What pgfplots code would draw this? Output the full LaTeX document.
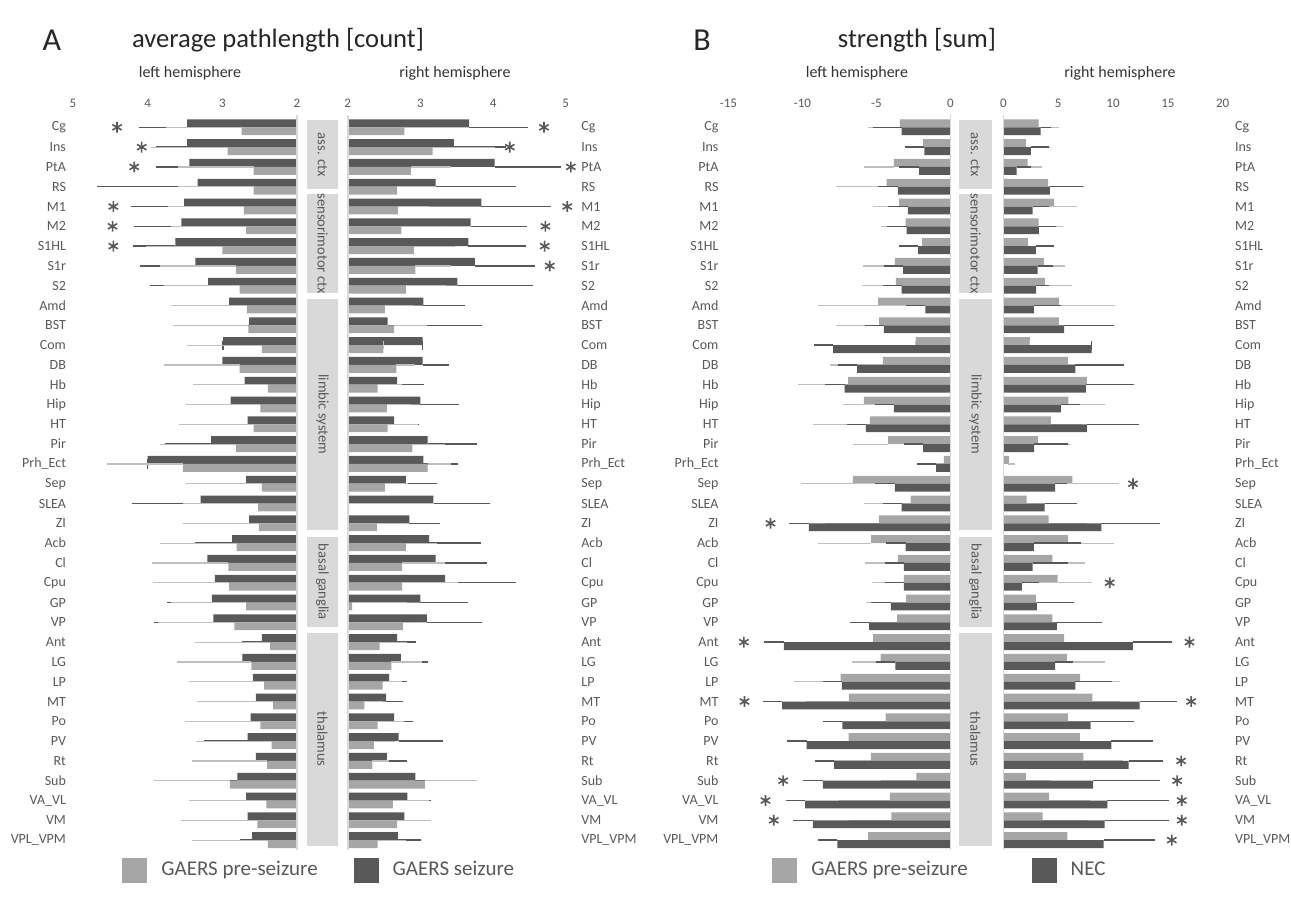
\documentclass[border=0pt]{standalone}
\usepackage{fontspec}
\setmainfont{Carlito}
\usepackage{pgfplots}
\usepackage{pgfplotstable}
\pgfplotsset{compat=1.18}
\definecolor{darkbar}{HTML}{595959}
\definecolor{lightbar}{HTML}{A6A6A6}
\definecolor{lighterr}{HTML}{BFBFBF}
\definecolor{boxcol}{HTML}{D9D9D9}
\definecolor{txt}{HTML}{595959}
\definecolor{basecol}{HTML}{D9D9D9}

% columns: row, light value, light error, dark value, dark error
\pgfplotstableread{
y ll le dl de
0 2.74 0.96 3.47 0.58
1 2.93 0.97 3.47 0.36
2 2.58 0.96 3.44 0.39
3 2.58 0.96 3.33 1.29
4 2.71 0.97 3.51 0.65
5 2.68 0.96 3.55 0.57
6 3.00 0.97 3.63 0.51
7 2.82 0.97 3.36 0.68
8 2.77 0.96 3.19 0.72
9 2.67 0.97 2.91 0.23
10 2.65 0.96 2.64 0.43
11 2.47 0.95 2.99 0
12 2.77 0.96 3.00 0.60
13 2.39 0.95 2.70 0.34
14 2.49 0.95 2.89 0.35
15 2.58 0.95 2.66 0.35
16 2.82 0.96 3.15 0.56
17 3.53 0.96 4.00 0
18 2.47 0.96 2.68 0.39
19 2.52 0.96 3.29 0.86
20 2.51 0.97 2.64 0.31
21 2.81 0.97 2.87 0.44
22 2.92 0.97 3.20 0.51
23 2.91 0.97 3.10 0.72
24 2.68 0.96 3.14 0.54
25 2.84 0.97 3.12 0.73
26 2.36 0.95 2.47 0.20
27 2.61 0.95 2.73 0.26
28 2.44 0.96 2.59 0.27
29 2.32 0.97 2.55 0.25
30 2.49 0.96 2.62 0.24
31 2.34 0.96 2.66 0.52
32 2.40 0.96 2.55 0.13
33 2.90 0.97 2.80 0.26
34 2.41 0.98 2.68 0.17
35 2.53 0.97 2.66 0.25
36 2.39 0.96 2.60 0.10
}\tabAL

\pgfplotstableread{
y ll le dl de
0 2.78 0.32 3.67 0.75
1 3.17 0.81 3.46 0.65
2 2.87 0.50 4.02 0.85
3 2.68 0.47 3.21 1.04
4 2.69 0.39 3.84 0.90
5 2.74 0.50 3.69 0.71
6 2.91 0.52 3.66 0.73
7 2.93 0.44 3.75 0.76
8 2.80 0.50 3.51 0.98
9 2.51 0.34 3.04 0.51
10 2.64 0.40 2.55 1.24
11 2.49 0 3.03 0
12 2.67 0.21 3.03 0.30
13 2.41 0.29 2.68 0.30
14 2.54 0.28 3.00 0.47
15 2.55 0.36 2.64 0.28
16 2.89 0.40 3.10 0.62
17 3.10 0.27 3.04 0.42
18 2.51 0.27 2.80 0.37
19 2.02 1.12 3.18 0.72
20 2.40 0.29 2.85 0.35
21 2.80 0.37 3.12 0.65
22 2.75 0.54 3.21 0.64
23 2.75 0.72 3.34 0.91
24 2.06 0.70 3.00 0.59
25 2.76 0.18 3.09 0.70
26 2.44 0.32 2.68 0.19
27 2.60 0.37 2.73 0.31
28 2.48 0.21 2.57 0.18
29 2.23 0.20 2.53 0.17
30 2.41 0.31 2.64 0.20
31 2.36 0.24 2.70 0.55
32 2.34 0.18 2.54 0.21
33 3.06 0.66 2.93 0.25
34 2.62 0.45 2.82 0.26
35 2.68 0.42 2.78 0.30
36 2.41 0.34 2.69 0.26
}\tabAR

\pgfplotstableread{
y ll le dl de
0 -3.42 1.92 -3.31 1.64
1 -1.85 0.81 -1.76 1.03
2 -3.83 1.73 -2.12 1.03
3 -4.32 3.18 -3.56 1.01
4 -3.47 1.53 -2.88 1.02
5 -3.04 1.40 -2.97 1.02
6 -1.91 0.68 -2.18 1.02
7 -3.76 1.87 -3.20 0.99
8 -3.69 2.01 -3.31 0.97
9 -4.89 3.83 -1.69 1.01
10 -4.82 2.66 -4.50 1.00
11 -2.34 0 -7.93 1.01
12 -4.57 3.31 -6.31 1.01
13 -6.91 3.16 -7.16 1.02
14 -5.86 1.17 -3.83 0.99
15 -5.45 3.56 -5.72 0.97
16 -4.21 2.10 -1.85 0.97
17 -0.45 0.27 -0.97 0.99
18 -6.60 3.26 -3.76 1.01
19 -2.70 2.89 -3.31 0.97
20 -4.84 3.36 -9.57 1.02
21 -5.36 3.36 -3.04 0.99
22 -3.56 1.98 -3.15 0.99
23 -3.15 1.87 -3.15 0.95
24 -3.00 2.47 -4.03 1.02
25 -3.60 2.03 -5.50 0.96
26 -5.23 2.43 -11.26 1.01
27 -4.73 1.64 -3.72 1.01
28 -7.43 2.89 -7.34 0.99
29 -6.87 2.63 -11.37 1.02
30 -4.39 3.79 -7.30 0.99
31 -6.89 3.76 -9.73 1.01
32 -5.36 3.04 -7.86 0.99
33 -2.30 2.14 -8.63 1.05
34 -4.10 3.17 -9.82 1.01
35 -3.99 2.59 -9.30 1.02
36 -5.56 3.16 -7.64 0.99
}\tabBL

\pgfplotstableread{
y ll le dl de
0 3.21 1.49 3.39 0.55
1 2.06 1.94 2.52 1.21
2 2.21 0.97 1.21 0.85
3 4.09 2.88 4.24 2.58
4 4.64 1.72 2.67 1.06
5 3.21 1.85 3.24 1.18
6 2.24 0.97 2.97 1.21
7 3.70 1.57 3.12 1.03
8 3.79 2.09 3.00 0.79
9 5.09 4.70 2.79 2.06
10 5.06 2.97 5.55 4.09
11 2.42 0 8.06 0
12 5.88 3.42 6.58 4.03
13 7.61 3.66 7.52 4.00
14 5.94 2.94 5.24 1.37
15 4.33 2.43 7.61 4.30
16 3.18 2.61 2.82 2.63
17 0.52 0.24 0 0
18 6.30 3.94 4.73 0.63
19 2.12 2.15 3.76 2.54
20 4.12 3.15 8.94 4.91
21 5.91 3.79 2.79 3.91
22 4.48 2.58 2.67 2.85
23 4.94 2.82 1.70 1.12
24 2.97 2.73 3.06 2.94
25 4.48 3.55 4.88 3.70
26 5.55 3.18 11.82 3.15
27 5.79 3.12 4.73 1.18
28 7.00 3.33 6.58 2.87
29 8.12 2.21 12.42 3.03
30 5.88 3.21 7.97 3.55
31 6.97 3.79 9.85 3.42
32 7.30 3.25 11.42 2.76
33 2.06 1.88 8.18 5.67
34 4.18 3.34 9.48 5.22
35 3.58 3.69 9.24 5.49
36 5.85 3.79 9.15 4.24
}\tabBR

\pgfplotsset{
  panel/.style={
    scale only axis, height=366.3pt,
    ymin=-0.5, ymax=36.5, y dir=reverse,
    ytick={0,...,36},
    yticklabels={Cg,Ins,PtA,RS,M1,M2,S1HL,S1r,S2,Amd,BST,Com,DB,Hb,Hip,HT,Pir,Prh\_Ect,Sep,SLEA,ZI,Acb,Cl,Cpu,GP,VP,Ant,LG,LP,MT,Po,PV,Rt,Sub,VA\_VL,VM,VPL\_VPM},
    axis line style={draw=none},
    major tick length=0pt, tick style={draw=none},
    xticklabel pos=right,
    /pgf/number format/assume math mode=true,
    xticklabel style={font=\fontsize{6.5}{7}\selectfont, text=txt, yshift=1.5pt},
    yticklabel style={font=\fontsize{7}{8}\selectfont, text=txt},
    clip mode=individual,
  },
  lbar/.style={xbar, bar width=0.4, bar shift=#1, fill=lightbar, draw=none,
    error bars/.cd, x dir=plus, x explicit,
    error bar style={lighterr, line width=0.6pt},
    error mark options={lighterr, mark size=1.9pt, line width=0.6pt}},
  dbar/.style={xbar, bar width=0.4, bar shift=#1, fill=darkbar, draw=none,
    error bars/.cd, x dir=plus, x explicit,
    error bar style={darkbar, line width=0.75pt},
    error mark options={darkbar, mark size=2.3pt, line width=0.75pt}},
  lbarm/.style={xbar, bar width=0.4, bar shift=#1, fill=lightbar, draw=none,
    error bars/.cd, x dir=minus, x explicit,
    error bar style={lighterr, line width=0.6pt},
    error mark options={lighterr, mark size=1.9pt, line width=0.6pt}},
  dbarm/.style={xbar, bar width=0.4, bar shift=#1, fill=darkbar, draw=none,
    error bars/.cd, x dir=minus, x explicit,
    error bar style={darkbar, line width=0.75pt},
    error mark options={darkbar, mark size=2.3pt, line width=0.75pt}},
  star/.style={only marks, mark=asterisk, mark size=2.7pt, darkbar, mark options={line width=0.8pt}},
  mid/.style={scale only axis, height=366.3pt, ymin=-0.5, ymax=36.5, y dir=reverse,
    xmin=0, xmax=1, hide axis, clip=false},
  leg/.style={scale only axis, width=1pt, height=1pt, xmin=0, xmax=1, ymin=0, ymax=1,
    hide axis, anchor=west,
    legend style={at={(0,0.5)}, anchor=west, draw=none, fill=none,
      font=\fontsize{10.5}{12}\selectfont, text=txt, legend columns=2,
      /tikz/every odd column/.append style={column sep=5pt},
      /tikz/every even column/.append style={column sep=#1}},
    legend image code/.code={\fill[##1] (0pt,-6.25pt) rectangle (12.5pt,6.25pt);}},
}

\begin{document}
\begin{tikzpicture}
\path (0pt,0pt) rectangle (645.5pt,-453pt);

% ---------- A left ----------
\begin{axis}[panel, at={(36.5pt,-58.7pt)}, anchor=north west, width=112pt,
  xmin=2, xmax=5, x dir=reverse, xtick={2,3,4,5}, yticklabel pos=left]
\addplot[dbar=-0.2] table[x=dl, y=y, x error=de] {\tabAL};
\addplot[lbar=0.2] table[x=ll, y=y, x error=le] {\tabAL};
\addplot[star] coordinates {(4.41,0) (4.08,1) (4.18,2) (4.46,4) (4.47,5) (4.46,6)};
\draw[basecol, line width=0.8pt] (axis cs:2,-0.6) -- (axis cs:2,36.5);
\end{axis}

% ---------- A right ----------
\begin{axis}[panel, at={(173.85pt,-58.7pt)}, anchor=north west, width=116.3pt,
  xmin=2, xmax=5.2, xtick={2,3,4,5}, yticklabel pos=right,
  yticklabel style={xshift=-3pt}]
\addplot[dbar=-0.2] table[x=dl, y=y, x error=de] {\tabAR};
\addplot[lbar=0.2] table[x=ll, y=y, x error=le] {\tabAR};
\addplot[star] coordinates {(4.70,0) (4.23,1) (5.07,2) (5.02,4) (4.72,5) (4.71,6) (4.78,7)};
\draw[basecol, line width=0.8pt] (axis cs:2,-0.6) -- (axis cs:2,36.5);
\end{axis}

% ---------- A middle boxes ----------
\begin{axis}[mid, at={(153.5pt,-58.7pt)}, anchor=north west, width=15.5pt]
\fill[boxcol] (axis cs:0,-0.37) rectangle (axis cs:1,3.12);
\fill[boxcol] (axis cs:0,3.37) rectangle (axis cs:1,8.37);
\fill[boxcol] (axis cs:0,8.67) rectangle (axis cs:1,20.33);
\fill[boxcol] (axis cs:0,20.69) rectangle (axis cs:1,25.23);
\fill[boxcol] (axis cs:0,25.54) rectangle (axis cs:1,36.29);
\begin{scope}[every node/.style={rotate=-90, text=darkbar, font=\fontsize{7.3}{8}\selectfont}]
\node at (axis cs:0.5,1.375) {ass. ctx};
\node at (axis cs:0.5,5.87) {sensorimotor ctx};
\node at (axis cs:0.5,14.5) {limbic system};
\node at (axis cs:0.5,22.96) {basal ganglia};
\node at (axis cs:0.5,30.9) {thalamus};
\end{scope}
\end{axis}

% ---------- B left ----------
\begin{axis}[panel, at={(364.25pt,-58.7pt)}, anchor=north west, width=111pt,
  xmin=-15, xmax=0, xtick={-15,-10,-5,0}, yticklabel pos=left,
  yticklabel style={xshift=-1.5pt}]
\addplot[lbarm=-0.2] table[x=ll, y=y, x error=le] {\tabBL};
\addplot[dbarm=0.2] table[x=dl, y=y, x error=de] {\tabBL};
\addplot[star] coordinates {(-12.16,20) (-13.96,26) (-13.92,29) (-11.31,33) (-12.5,34) (-11.94,35)};
\draw[basecol, line width=0.8pt] (axis cs:0,-0.6) -- (axis cs:0,36.5);
\end{axis}

% ---------- B right ----------
\begin{axis}[panel, at={(501.65pt,-58.7pt)}, anchor=north west, width=109.7pt,
  xmin=0, xmax=20, xtick={0,5,10,15,20}, yticklabel pos=right,
  yticklabel style={inner xsep=0pt, xshift=6pt}]
\addplot[lbar=-0.2] table[x=ll, y=y, x error=le] {\tabBR};
\addplot[dbar=0.2] table[x=dl, y=y, x error=de] {\tabBR};
\addplot[star] coordinates {(11.82,18) (9.70,23) (16.97,26) (17.12,29) (16.21,32) (15.85,33) (16.27,34) (16.27,35) (15.36,36)};
\draw[basecol, line width=0.8pt] (axis cs:0,-0.6) -- (axis cs:0,36.5);
\end{axis}

% ---------- B middle boxes ----------
\begin{axis}[mid, at={(479.5pt,-58.7pt)}, anchor=north west, width=16.5pt]
\fill[boxcol] (axis cs:0,-0.37) rectangle (axis cs:1,3.12);
\fill[boxcol] (axis cs:0,3.37) rectangle (axis cs:1,8.37);
\fill[boxcol] (axis cs:0,8.67) rectangle (axis cs:1,20.33);
\fill[boxcol] (axis cs:0,20.69) rectangle (axis cs:1,25.23);
\fill[boxcol] (axis cs:0,25.54) rectangle (axis cs:1,36.29);
\begin{scope}[every node/.style={rotate=-90, text=darkbar, font=\fontsize{7.3}{8}\selectfont}]
\node at (axis cs:0.5,1.375) {ass. ctx};
\node at (axis cs:0.5,5.87) {sensorimotor ctx};
\node at (axis cs:0.5,14.5) {limbic system};
\node at (axis cs:0.5,22.96) {basal ganglia};
\node at (axis cs:0.5,30.9) {thalamus};
\end{scope}
\end{axis}

% ---------- legends ----------
\begin{axis}[leg=16pt, at={(58pt,-435pt)}]
\addlegendimage{fill=lightbar, draw=none}
\addlegendentry{GAERS pre-seizure}
\addlegendimage{fill=darkbar, draw=none}
\addlegendentry{GAERS seizure}
\end{axis}
\begin{axis}[leg=30pt, at={(383pt,-435pt)}]
\addlegendimage{fill=lightbar, draw=none}
\addlegendentry{GAERS pre-seizure}
\addlegendimage{fill=darkbar, draw=none}
\addlegendentry{NEC}
\end{axis}

% ---------- titles ----------
\begin{scope}[x=0.5pt, y=-0.5pt]
\node[font=\fontsize{16}{18}\selectfont, text=black!85] at (52,40) {A};
\node[font=\fontsize{13.3}{15}\selectfont, text=black!85] at (278,40) {average pathlength [count]};
\node[font=\fontsize{16}{18}\selectfont, text=black!85] at (702,40) {B};
\node[font=\fontsize{13.3}{15}\selectfont, text=black!85] at (917,40) {strength [sum]};
\node[font=\fontsize{8}{9}\selectfont, text=black!80] at (190,73) {left hemisphere};
\node[font=\fontsize{8}{9}\selectfont, text=black!80] at (455,73) {right hemisphere};
\node[font=\fontsize{8}{9}\selectfont, text=black!80] at (857,73) {left hemisphere};
\node[font=\fontsize{8}{9}\selectfont, text=black!80] at (1120,73) {right hemisphere};
\end{scope}
\end{tikzpicture}
\end{document}
